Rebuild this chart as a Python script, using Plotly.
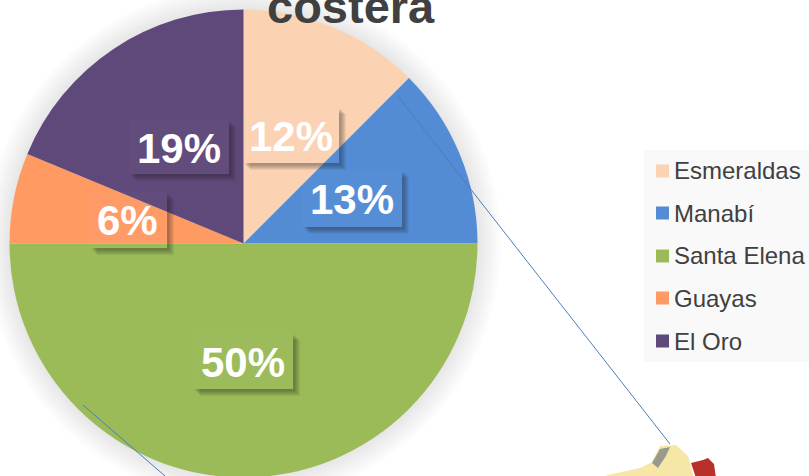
import plotly.graph_objects as go

categories = ["Esmeraldas", "Manabí", "Santa Elena", "Guayas", "El Oro"]
values = [2, 2, 8, 1, 3]
pct_labels = ["12%", "13%", "50%", "6%", "19%"]
colors = ["#FBD3B3", "#538CD5", "#9BBB59", "#FF9A63", "#5F497A"]
title_text = "costera"

W, H = 809, 478
CX, CY, R = 243.5, 243.5, 234
# label boxes (x0, y0, x1, y1) in page pixels
label_boxes = [(243, 107, 339, 163), (302, 170, 402, 227), (193, 333, 293, 389),
               (90, 192, 167, 248), (129, 120, 229, 174)]
legend_y = [171, 213, 256, 298, 341]

px = lambda x: x / W
py = lambda y: 1 - y / H

fig = go.Figure(go.Pie(
    labels=categories, values=values, sort=False, direction="clockwise", rotation=0,
    marker=dict(colors=colors, line=dict(width=0)),
    textinfo="none", hoverinfo="label+percent", showlegend=False,
    domain=dict(x=[px(CX - R), px(CX + R)], y=[max(py(CY + R), 0), py(CY - R)]),
))

shapes = []
# soft halo round the pie
for i in range(12):
    r = R + 24 - i * 2
    shapes.append(dict(type="circle", xref="paper", yref="paper", layer="below",
                       x0=px(CX - r), x1=px(CX + r), y0=py(CY + r), y1=py(CY - r),
                       fillcolor="rgba(120,120,120,0.016)", line_width=0))
# label shadows
for (x0, y0, x1, y1) in label_boxes:
    shapes.append(dict(type="rect", xref="paper", yref="paper", layer="above",
                       x0=px(x0), x1=px(x1), y0=py(y1), y1=py(y0),
                       fillcolor="rgba(255,255,255,0.02)", line_width=0))
    for off in [7, 6, 5, 4, 3, 2]:
        a = 0.07
        d = (f"M{px(x1)},{py(y0 + off)} L{px(x1 + off)},{py(y0 + off)} L{px(x1 + off)},{py(y1 + off)} "
             f"L{px(x0 + off)},{py(y1 + off)} L{px(x0 + off)},{py(y1)} L{px(x1)},{py(y1)} Z")
        shapes.append(dict(type="path", path=d, xref="paper", yref="paper", layer="above",
                           fillcolor=f"rgba(30,30,30,{a})", line_width=0))
# leader lines
for (a, b, c, d) in [(397, 95, 670, 444), (83, 405, 165, 476)]:
    shapes.append(dict(type="line", xref="paper", yref="paper", layer="above",
                       x0=px(a), y0=py(b), x1=px(c), y1=py(d),
                       line=dict(color="#4A7EBB", width=1)))
# legend panel and swatches
shapes.append(dict(type="rect", xref="paper", yref="paper", layer="below",
                   x0=px(644), x1=px(809), y0=py(362), y1=py(150),
                   fillcolor="#F9F9F9", line_width=0))
for y, col in zip(legend_y, colors):
    shapes.append(dict(type="rect", xref="paper", yref="paper", layer="above",
                       x0=px(656), x1=px(669), y0=py(y + 6.5), y1=py(y - 6.5),
                       fillcolor=col, line_width=0))
# map fragment, bottom right
def poly(pts, fill):
    d = "M" + " L".join(f"{px(x)},{py(y)}" for x, y in pts) + " Z"
    return dict(type="path", path=d, xref="paper", yref="paper", layer="above",
                fillcolor=fill, line_width=0)
shapes.append(poly([(598, 478), (612, 474), (640, 468), (652, 462), (660, 446), (676, 445), (688, 456),
                    (690, 463), (694, 478)], "#F7E7A6"))
shapes.append(poly([(652, 463), (660, 449), (670, 447), (666, 456), (658, 468)], "#9A9A8C"))
shapes.append(poly([(691, 463), (703, 460), (708, 458), (714, 464), (716, 478), (696, 478)], "#B8302A"))

annotations = [dict(text=f"<b>{title_text}</b>", x=px(351), y=py(7), xref="paper", yref="paper",
                    xanchor="center", yanchor="middle", showarrow=False,
                    font=dict(family="Liberation Sans", size=47, color="#404040"))]
for (x0, y0, x1, y1), t in zip(label_boxes, pct_labels):
    annotations.append(dict(text=f"<b>{t}</b>", x=px((x0 + x1) / 2 - 0.5), y=py((y0 + y1) / 2 + 1),
                            xref="paper", yref="paper", xanchor="center", yanchor="middle",
                            showarrow=False,
                            font=dict(family="Liberation Sans", size=42, color="#FFFFFF")))
for y, name in zip(legend_y, categories):
    annotations.append(dict(text=name, x=px(672), y=py(y), xref="paper", yref="paper",
                            xanchor="left", yanchor="middle", showarrow=False,
                            font=dict(family="Liberation Sans", size=24, color="#404040")))

fig.update_layout(width=W, height=H, autosize=False, margin=dict(l=0, r=0, t=0, b=0),
                  paper_bgcolor="#FFFFFF", showlegend=False, shapes=shapes, annotations=annotations)
fig.write_html("out.html", config=dict(displayModeBar=False),
               post_script="document.body.style.margin='0';document.body.style.overflow='hidden';")
